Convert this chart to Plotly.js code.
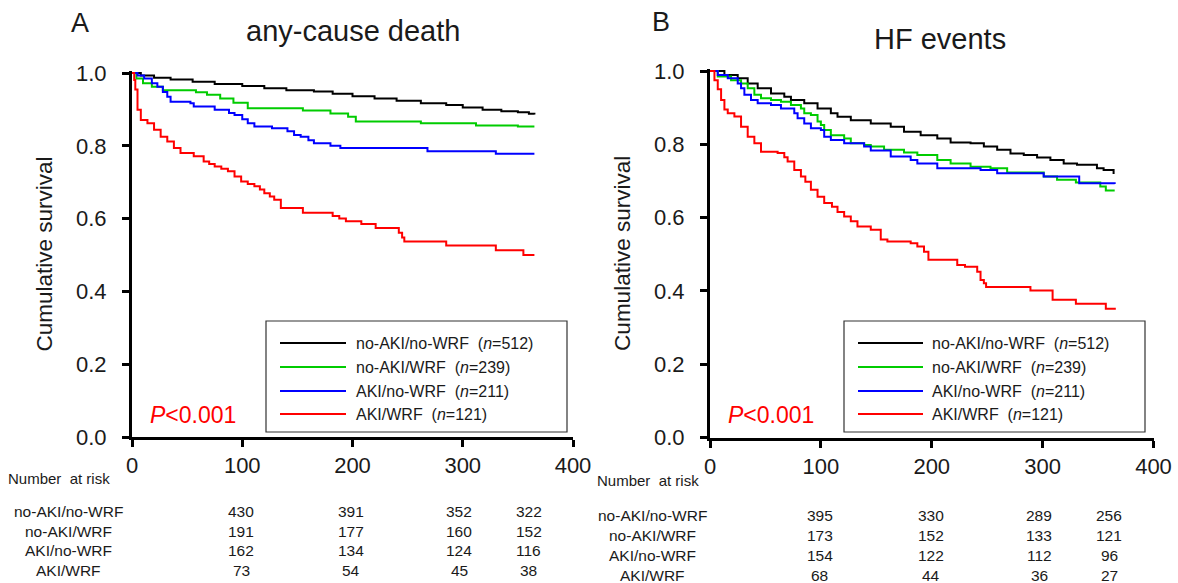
<!DOCTYPE html>
<html>
<head>
<meta charset="utf-8">
<script src="https://cdn.plot.ly/plotly-3.0.1.min.js"></script>
<style>html,body{margin:0;padding:0;background:#fff;}#chart{width:1178px;height:583px;}</style>
</head>
<body>
<div id="chart"></div>
<script>
// ---------- DATA ----------
const groupNames = ['no-AKI/no-WRF', 'no-AKI/WRF', 'AKI/no-WRF', 'AKI/WRF'];
const groupN = [512, 239, 211, 121];
const groupColors = ['#000000', '#00cc00', '#0000ff', '#ff0000'];

// Panel A: any-cause death (Kaplan-Meier step points: day, survival)
const A_noAKI_noWRF_days = [0, 8, 20, 35, 55, 75, 100, 120, 140, 165, 182, 200, 220, 240, 262, 285, 300, 318, 335, 350, 360, 365];
const A_noAKI_noWRF_surv = [1.0, 0.993, 0.987, 0.982, 0.976, 0.970, 0.964, 0.958, 0.953, 0.949, 0.943, 0.936, 0.930, 0.924, 0.917, 0.912, 0.905, 0.899, 0.895, 0.892, 0.888, 0.886];
const A_noAKI_WRF_days = [0, 4, 10, 18, 28, 58, 68, 80, 92, 105, 155, 180, 196, 203, 262, 312, 350, 365];
const A_noAKI_WRF_surv = [1.0, 0.985, 0.972, 0.962, 0.953, 0.947, 0.940, 0.930, 0.918, 0.903, 0.897, 0.889, 0.880, 0.867, 0.862, 0.856, 0.853, 0.853];
const A_AKI_noWRF_days = [0, 5, 11, 18, 23, 28, 32, 35, 53, 56, 75, 88, 93, 100, 105, 111, 127, 141, 147, 153, 160, 165, 180, 189, 268, 330, 365];
const A_AKI_noWRF_surv = [1.0, 0.993, 0.985, 0.972, 0.962, 0.948, 0.935, 0.921, 0.917, 0.908, 0.899, 0.890, 0.885, 0.873, 0.862, 0.853, 0.848, 0.840, 0.830, 0.825, 0.815, 0.807, 0.800, 0.794, 0.785, 0.778, 0.778];
const A_AKI_WRF_days = [0, 2, 3, 5, 8, 14, 20, 26, 32, 38, 44, 56, 65, 70, 75, 81, 87, 93, 99, 105, 111, 116, 120, 125, 129, 135, 155, 182, 188, 194, 208, 221, 242, 245, 247, 285, 330, 355, 365];
const A_AKI_WRF_surv = [1.0, 0.981, 0.955, 0.899, 0.871, 0.862, 0.844, 0.825, 0.812, 0.794, 0.780, 0.771, 0.757, 0.750, 0.743, 0.737, 0.730, 0.716, 0.702, 0.695, 0.689, 0.680, 0.670, 0.661, 0.652, 0.629, 0.616, 0.607, 0.600, 0.593, 0.585, 0.574, 0.561, 0.548, 0.537, 0.526, 0.513, 0.500, 0.500];

// Panel B: HF events
const B_noAKI_noWRF_days = [0, 13, 25, 34, 43, 55, 67, 73, 85, 97, 109, 115, 127, 145, 163, 175, 190, 205, 217, 235, 247, 259, 271, 283, 295, 307, 319, 331, 349, 355, 364];
const B_noAKI_noWRF_surv = [1.0, 0.989, 0.980, 0.966, 0.953, 0.939, 0.930, 0.921, 0.912, 0.898, 0.885, 0.875, 0.866, 0.857, 0.848, 0.834, 0.825, 0.816, 0.805, 0.803, 0.794, 0.785, 0.775, 0.771, 0.764, 0.757, 0.748, 0.744, 0.735, 0.730, 0.719];
const B_noAKI_WRF_days = [0, 7, 19, 28, 34, 40, 46, 55, 64, 73, 82, 85, 91, 97, 100, 103, 109, 121, 127, 139, 145, 157, 175, 187, 205, 217, 235, 253, 268, 301, 313, 330, 352, 357, 365];
const B_noAKI_WRF_surv = [1.0, 0.985, 0.975, 0.966, 0.953, 0.935, 0.926, 0.921, 0.916, 0.907, 0.898, 0.885, 0.880, 0.862, 0.853, 0.839, 0.825, 0.816, 0.803, 0.798, 0.794, 0.785, 0.778, 0.771, 0.757, 0.748, 0.739, 0.735, 0.723, 0.712, 0.703, 0.696, 0.685, 0.674, 0.674];
const B_AKI_noWRF_days = [0, 7, 16, 25, 28, 31, 37, 43, 55, 64, 76, 79, 85, 91, 100, 103, 109, 121, 139, 145, 163, 181, 187, 205, 244, 259, 301, 333, 365];
const B_AKI_noWRF_surv = [1.0, 0.989, 0.980, 0.966, 0.953, 0.935, 0.921, 0.912, 0.907, 0.898, 0.885, 0.871, 0.857, 0.844, 0.839, 0.821, 0.812, 0.803, 0.794, 0.783, 0.767, 0.757, 0.748, 0.735, 0.730, 0.721, 0.712, 0.694, 0.692];
const B_AKI_WRF_days = [0, 4, 7, 10, 13, 16, 22, 28, 34, 40, 46, 61, 67, 70, 76, 82, 86, 91, 97, 103, 110, 115, 121, 127, 133, 145, 154, 160, 181, 187, 193, 197, 223, 230, 241, 244, 247, 249, 289, 309, 330, 357, 366];
const B_AKI_WRF_surv = [1.0, 0.975, 0.950, 0.921, 0.895, 0.885, 0.876, 0.848, 0.821, 0.803, 0.780, 0.776, 0.765, 0.753, 0.730, 0.712, 0.698, 0.676, 0.657, 0.640, 0.630, 0.615, 0.603, 0.590, 0.576, 0.567, 0.540, 0.535, 0.530, 0.521, 0.507, 0.485, 0.471, 0.466, 0.452, 0.430, 0.421, 0.411, 0.401, 0.376, 0.365, 0.351, 0.351];

// Number at risk
const riskDays = [99, 199, 297, 360];
const riskA_noAKI_noWRF = [430, 391, 352, 322];
const riskA_noAKI_WRF = [191, 177, 160, 152];
const riskA_AKI_noWRF = [162, 134, 124, 116];
const riskA_AKI_WRF = [73, 54, 45, 38];
const riskB_noAKI_noWRF = [395, 330, 289, 256];
const riskB_noAKI_WRF = [173, 152, 133, 121];
const riskB_AKI_noWRF = [154, 122, 112, 96];
const riskB_AKI_WRF = [68, 44, 36, 27];

const xTicks = [0, 100, 200, 300, 400];
const yTicks = [0, 0.2, 0.4, 0.6, 0.8, 1.0];

// ---------- BUILD ----------
const W = 1178, H = 583;
const px = v => v / W;
const py = v => 1 - v / H;
const FONT = 'Liberation Sans, Arial, sans-serif';
const TXT = '#1a1a1a';

const seriesA = [[A_noAKI_noWRF_days, A_noAKI_noWRF_surv], [A_noAKI_WRF_days, A_noAKI_WRF_surv], [A_AKI_noWRF_days, A_AKI_noWRF_surv], [A_AKI_WRF_days, A_AKI_WRF_surv]];
const seriesB = [[B_noAKI_noWRF_days, B_noAKI_noWRF_surv], [B_noAKI_WRF_days, B_noAKI_WRF_surv], [B_AKI_noWRF_days, B_AKI_noWRF_surv], [B_AKI_WRF_days, B_AKI_WRF_surv]];

const traces = [];
seriesA.forEach((s, i) => traces.push({x: s[0], y: s[1], xaxis: 'x', yaxis: 'y', type: 'scatter', mode: 'lines', line: {shape: 'hv', color: groupColors[i], width: 2}, name: groupNames[i], showlegend: false, hoverinfo: 'skip'}));
seriesB.forEach((s, i) => traces.push({x: s[0], y: s[1], xaxis: 'x2', yaxis: 'y2', type: 'scatter', mode: 'lines', line: {shape: 'hv', color: groupColors[i], width: 2}, name: groupNames[i], showlegend: false, hoverinfo: 'skip'}));

function axisBase() {
  return {
    showline: true, linecolor: '#000', linewidth: 3, mirror: false,
    ticks: 'outside', ticklen: 7, tickwidth: 3, tickcolor: '#000',
    showgrid: false, zeroline: false, fixedrange: true,
    tickfont: {family: FONT, size: 22, color: TXT}
  };
}
const yTitleFont = {family: FONT, size: 22.5, color: TXT};

const layout = {
  width: W, height: H,
  margin: {l: 0, r: 0, t: 0, b: 0},
  paper_bgcolor: '#fff', plot_bgcolor: '#fff',
  showlegend: false,
  xaxis: Object.assign(axisBase(), {domain: [px(132), px(573)], range: [0, 400], tickvals: xTicks, anchor: 'y'}),
  yaxis: Object.assign(axisBase(), {domain: [py(437), py(71.2)], range: [0, 1.005], tickvals: yTicks, tickformat: '.1f', anchor: 'x', ticklabelstandoff: 11,
    title: {text: 'Cumulative survival', font: yTitleFont, standoff: 18}}),
  xaxis2: Object.assign(axisBase(), {domain: [px(710), px(1153.5)], range: [0, 400], tickvals: xTicks, anchor: 'y2'}),
  yaxis2: Object.assign(axisBase(), {domain: [py(437.5), py(69.2)], range: [0, 1.005], tickvals: yTicks, tickformat: '.1f', anchor: 'x2', ticklabelstandoff: 11,
    title: {text: 'Cumulative survival', font: yTitleFont, standoff: 18}}),
  annotations: [],
  shapes: []
};

const ann = layout.annotations;
function pText(text, x, y, size, opts) {
  ann.push(Object.assign({text: text, x: px(x), y: py(y), xref: 'paper', yref: 'paper', showarrow: false,
    xanchor: 'center', yanchor: 'middle', font: {family: FONT, size: size, color: TXT}}, opts || {}));
}

// Panel letters and titles
pText('A', 80, 23, 27);
pText('any-cause death', 352.5, 31, 29);
pText('B', 661, 22, 27);
pText('HF events', 939.5, 39, 29);

// P values
pText('<i>P</i>&lt;0.001', 193, 415, 23, {font: {family: FONT, size: 23, color: '#ff0000'}});
pText('<i>P</i>&lt;0.001', 771, 415, 23, {font: {family: FONT, size: 23, color: '#ff0000'}});

// Legends (manual, to match the boxed legend)
const legendRows = [343, 367, 391, 414];
function drawLegend(bx0, bx1, lx0, lx1, tx) {
  layout.shapes.push({type: 'rect', xref: 'paper', yref: 'paper', x0: px(bx0), x1: px(bx1), y0: py(432), y1: py(321), line: {color: '#333', width: 1.2}, fillcolor: 'rgba(255,255,255,0)'});
  groupNames.forEach((g, i) => {
    layout.shapes.push({type: 'line', xref: 'paper', yref: 'paper', x0: px(lx0), x1: px(lx1), y0: py(legendRows[i]), y1: py(legendRows[i]), line: {color: groupColors[i], width: 2}});
    pText(g + '&nbsp; (<i>n</i>=' + groupN[i] + ')', tx, legendRows[i], 16, {xanchor: 'left'});
  });
}
drawLegend(266, 567, 280, 346, 354);
drawLegend(844, 1145, 858, 923, 930);

// Number at risk tables
const riskRowsA = [riskA_noAKI_noWRF, riskA_noAKI_WRF, riskA_AKI_noWRF, riskA_AKI_WRF];
const riskRowsB = [riskB_noAKI_noWRF, riskB_noAKI_WRF, riskB_AKI_noWRF, riskB_AKI_WRF];
const riskYA = [511, 531, 550, 570];
const riskYB = [515, 535, 555, 575];
function drawRisk(rows, ys, xref, labelX, headerX, headerY) {
  pText('Number&nbsp; at risk', headerX, headerY, 15);
  rows.forEach((vals, r) => {
    pText(groupNames[r], labelX, ys[r], 15.5);
    vals.forEach((v, c) => {
      ann.push({text: String(v), x: riskDays[c], y: py(ys[r]), xref: xref, yref: 'paper', showarrow: false,
        xanchor: 'center', yanchor: 'middle', font: {family: FONT, size: 15.5, color: TXT}});
    });
  });
}
drawRisk(riskRowsA, riskYA, 'x', 68, 59, 478);
drawRisk(riskRowsB, riskYB, 'x2', 652, 648, 481);

Plotly.newPlot('chart', traces, layout, {displayModeBar: false, staticPlot: true});
</script>
</body>
</html>
